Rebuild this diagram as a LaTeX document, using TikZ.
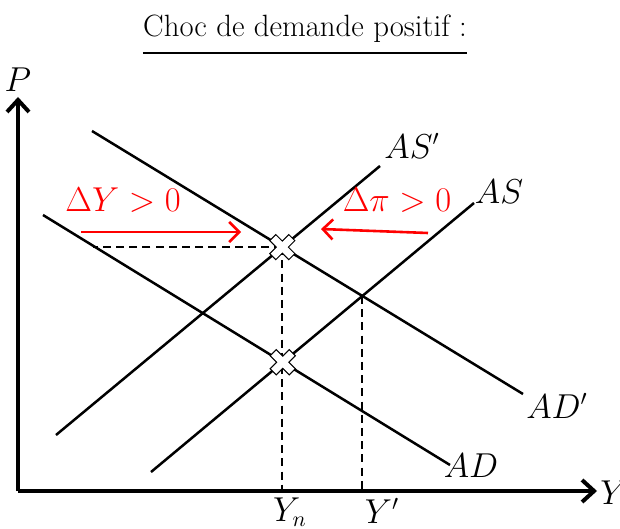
\documentclass[tikz,border=0pt]{standalone}
\usepackage{amsmath}
\usetikzlibrary{arrows.meta,intersections,calc}
\definecolor{shockred}{RGB}{255,0,0}

\tikzset{
  pics/crossmark/.style={code={
    \draw[line width=4.8pt, line cap=rect, black] (-6.5,-6.5) -- (6.5,6.5) (-6.5,6.5) -- (6.5,-6.5);
    \draw[line width=3.6pt, line cap=rect, white] (-6.5,-6.5) -- (6.5,6.5) (-6.5,6.5) -- (6.5,-6.5);
  }}
}

\begin{document}
\begin{tikzpicture}[
    x=0.5pt, y=-0.5pt,
    axis/.style={line width=2pt, -{Straight Barb[length=6pt,width=11pt,line width=2pt]}},
    curve/.style={line width=1.25pt},
    guide/.style={line width=1pt, dash pattern=on 4pt off 2.6pt},
    shockarrow/.style={shockred, line width=1.3pt, -{Straight Barb[length=5pt,width=10pt,line width=1.3pt]}},
    lbl/.style={font=\fontsize{16}{18}\selectfont},
    heading/.style={font=\fontsize{15.4}{18}\selectfont, inner xsep=0pt},
  ]
  \useasboundingbox (0,0) rectangle (620,529);

  % title
  \node[heading, anchor=base] (title) at (305,37) {Choc de demande positif :};
  \draw[line width=1pt] ([yshift=-8pt]title.base west) -- ([yshift=-8pt]title.base east);

  % axes
  \coordinate (o) at (18,491);
  \coordinate (ytop) at (18,97);
  \coordinate (xend) at (597,491);
  \draw[axis] (o) -- (ytop);
  \draw[axis] (o) -- (xend);
  \node[lbl] (plabel) at (18,80) {$P$};
  \node[lbl, anchor=west, inner sep=0pt] (ylabel) at (600,493) {$Y$};

  % curve end points
  \coordinate (as-lo)  at (151,472);
  \coordinate (as-hi)  at (474,203);
  \coordinate (asp-lo) at (56,435);
  \coordinate (asp-hi) at (380,166);
  \coordinate (ad-hi)  at (43,215);
  \coordinate (ad-lo)  at (450,465);
  \coordinate (adp-hi) at (92,131);
  \coordinate (adp-lo) at (523,394);

  \path[name path=AS]  (as-lo)  -- (as-hi);
  \path[name path=ASp] (asp-lo) -- (asp-hi);
  \path[name path=AD]  (ad-hi)  -- (ad-lo);
  \path[name path=ADp] (adp-hi) -- (adp-lo);
  \path[name intersections={of=AS and AD, by=E0}];
  \path[name intersections={of=ASp and ADp, by=E1}];
  \path[name intersections={of=AS and ADp, by=E2}];

  % guides
  \coordinate (hstart) at (93,248);
  \draw[guide] (E1) -- (E1 -| hstart);
  \draw[guide] (E1) -- (E1 |- o);
  \draw[guide] (E2) -- (E2 |- o);

  % curves
  \draw[curve] (as-lo)  -- (as-hi);
  \draw[curve] (asp-lo) -- (asp-hi);
  \draw[curve] (ad-hi)  -- (ad-lo);
  \draw[curve] (adp-hi) -- (adp-lo);

  \node[lbl] (aslabel)  at (499,192) {$AS$};
  \node[lbl] (asplabel) at (412,146) {$AS'$};
  \node[lbl] (adlabel)  at (471,466) {$AD$};
  \node[lbl] (adplabel) at (557,406) {$AD'$};
  \node[lbl] (ynlabel)  at (290,512) {$Y_n$};
  \node[lbl] (yplabel)  at (382,511) {$Y'$};

  % equilibria
  \pic at (E1) {crossmark};
  \pic at (E0) {crossmark};

  % adjustments
  \coordinate (dy-from) at (81,232);
  \coordinate (dy-to)   at (241,232);
  \coordinate (dp-from) at (428,233);
  \coordinate (dp-to)   at (321,229);
  \draw[shockarrow] (dy-from) -- (dy-to);
  \draw[shockarrow] (dp-from) -- (dp-to);
  \node[lbl, text=shockred] (dylabel) at (123,200) {$\Delta Y > 0$};
  \node[lbl, text=shockred] (dplabel) at (397,200) {$\Delta \pi > 0$};
\end{tikzpicture}
\end{document}
